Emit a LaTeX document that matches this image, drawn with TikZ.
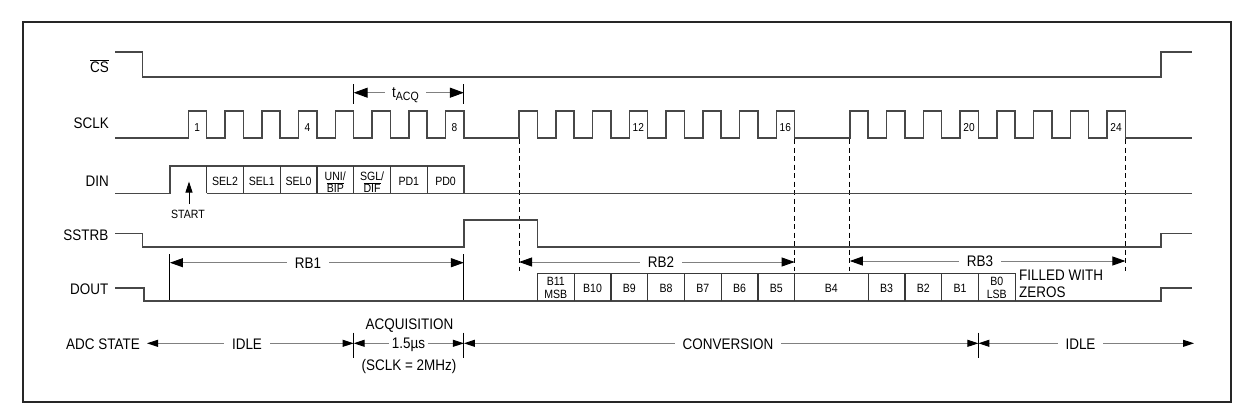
\documentclass[tikz,border=0pt]{standalone}
\usepackage{fontspec}
\setmainfont{Liberation Sans}[FakeStretch=0.88]
\usetikzlibrary{arrows.meta}
\begin{document}
\begin{tikzpicture}[x=1pt,y=-1pt,
  tri/.tip={Triangle[length=11pt,width=7pt,color=black]},
  trb/.tip={Triangle[length=13pt,width=9pt,color=black]},
  tta/.tip={Triangle[length=14pt,width=10pt,color=black]},
  sig/.style={line width=1.6pt,draw=black!72,line join=miter},
  bx/.style={line width=1.2pt,draw=black!78},
  dimline/.style={line width=0.9pt,draw=black!50},
  tick/.style={line width=0.9pt,draw=black},
  dline/.style={line width=1.1pt,draw=black,dash pattern=on 5pt off 3.5pt},
  lbl/.style={font=\fontsize{15.3}{17}\selectfont,inner sep=0pt},
  sml/.style={font=\fontsize{12}{14}\selectfont,inner sep=0pt},
  num/.style={font=\fontsize{11.5}{12}\selectfont,inner sep=0pt},
  gap/.style={fill=white,inner xsep=8pt,inner ysep=1pt}
]
\useasboundingbox (0,0) rectangle (1242,407);
\draw[line width=1.6pt,draw=black!85] (23,21.7) rectangle (1231,401.7);

% signal names
\node[lbl,anchor=base east] (lcs) at (109,72.7) {$\overline{\mbox{CS}}$};
\node[lbl,anchor=base east] (lsclk) at (109,128.3) {SCLK};
\node[lbl,anchor=base east] (ldin) at (109,186.7) {DIN};
\node[lbl,anchor=base east] (lsstrb) at (108.5,240) {SSTRB};
\node[lbl,anchor=base east] (ldout) at (108.5,294) {DOUT};
\node[lbl,anchor=east] (ladc) at (140,344) {ADC STATE};

% CS
\draw[sig] (115,52) -- (142.3,52) -- (142.3,76.7) -- (1161,76.7) -- (1161,52) -- (1192,52);

% SCLK
\draw[sig] (115,137.7) \foreach \k [evaluate=\k as \x using {188.3+(\k-1+(\k>8)+(\k>16))*36.75}] in {1,...,24} { -- (\x,137.7) -- (\x,110.7) -- (\x+18.375,110.7) -- (\x+18.375,137.7) } -- (1192,137.7);
\foreach \k [evaluate=\k as \x using {188.3+(\k-1+(\k>8)+(\k>16))*36.75+9}] in {1,4,8,12,16,20,24}
  \node[num] (n\k) at (\x,127.5) {\k};

% tACQ
\draw[tick] (353.675,84) -- (353.675,104.3);
\draw[tick] (463.925,84) -- (463.925,104.3);
\coordinate (ta1) at (353.675,92.7);
\coordinate (ta2) at (463.925,92.7);
\draw[dimline,tta-tta] (ta1) -- (ta2);
\node[lbl,gap,inner xsep=7pt,anchor=base] (tacq) at (405.5,97) {t\raisebox{-0.4ex}{\fontsize{12}{12}\selectfont ACQ}};

% dashed markers
\foreach \xx/\nm in {519.05/da,794.675/db,849.8/dc,1125.425/dd}
  \draw[dline] (\xx,139) -- (\xx,271);

% DIN
\draw[sig] (115,193.3) -- (169.925,193.3) -- (169.925,166) -- (463.925,166) -- (463.925,193.3);
\draw[sig] (206.675,193.3) -- (1192,193.3);
\foreach \xx in {206.675,243.425,280.175,316.925,353.675,390.425,427.175}
  \draw[bx] (\xx,166) -- (\xx,193.3);
\node[sml] (sel2) at (225.05,181) {SEL2};
\node[sml] (sel1) at (261.8,181) {SEL1};
\node[sml] (sel0) at (298.55,181) {SEL0};
\node[sml,align=center] (unibip) at (335.3,182) {UNI/\\[-1.5pt]$\overline{\mbox{BIP}}$};
\node[sml,align=center] (sgldif) at (372.05,182) {SGL/\\[-1.5pt]$\overline{\mbox{DIF}}$};
\node[sml] (pd1) at (408.8,181) {PD1};
\node[sml] (pd0) at (445.55,181) {PD0};

% START
\coordinate (st0) at (189,204);
\coordinate (st1) at (189,181.5);
\draw[line width=1pt,-{Triangle[length=11pt,width=7pt]}] (st0) -- (st1);
\node[sml] (start) at (188,214) {START};

% SSTRB
\draw[sig] (115,233.3) -- (142.3,233.3) -- (142.3,246.7) -- (463.925,246.7) -- (463.925,220) -- (537.425,220) -- (537.425,246.7) -- (1161,246.7) -- (1161,233.3) -- (1192,233.3);

% RB arrows
\draw[tick] (169.925,254) -- (169.925,300.7);
\draw[tick] (463.925,254) -- (463.925,300.7);
\coordinate (rb1a) at (169.925,262.7);
\coordinate (rb1b) at (463.925,262.7);
\draw[dimline,trb-trb] (rb1a) -- (rb1b);
\node[lbl,gap] (rb1) at (308,263) {RB1};
\coordinate (rb2a) at (519.05,262);
\coordinate (rb2b) at (794.675,262);
\draw[dimline,trb-trb] (rb2a) -- (rb2b);
\node[lbl,gap] (rb2) at (661,262) {RB2};
\coordinate (rb3a) at (849.8,261);
\coordinate (rb3b) at (1125.425,261);
\draw[dimline,trb-trb] (rb3a) -- (rb3b);
\node[lbl,gap] (rb3) at (980,261) {RB3};

% DOUT
\draw[sig] (115,287.7) -- (144,287.7) -- (144,300.7) -- (1161,300.7) -- (1161,287.7) -- (1192,287.7);
\draw[bx] (537.425,273.3) -- (1015.175,273.3);
\foreach \xx in {537.425,574.175,610.925,647.675,684.425,721.175,757.925,794.675,868.175,904.925,941.675,978.425,1015.175}
  \draw[bx] (\xx,273.3) -- (\xx,300.7);
\node[sml,align=center] (b11) at (555.8,288) {B11\\[-1.5pt]MSB};
\node[sml] (b10) at (592.55,288.5) {B10};
\node[sml] (b9) at (629.3,288.5) {B9};
\node[sml] (b8) at (666.05,288.5) {B8};
\node[sml] (b7) at (702.8,288.5) {B7};
\node[sml] (b6) at (739.55,288.5) {B6};
\node[sml] (b5) at (776.3,288.5) {B5};
\node[sml] (b4) at (831.4,288.5) {B4};
\node[sml] (b3) at (886.55,288.5) {B3};
\node[sml] (b2) at (923.3,288.5) {B2};
\node[sml] (b1) at (960.05,288.5) {B1};
\node[sml,align=center] (b0) at (996.8,288) {B0\\[-1.5pt]LSB};
\node[lbl,align=left,anchor=west,font=\fontsize{15.3}{16.5}\selectfont] (zeros) at (1019,284) {FILLED WITH\\ZEROS};

% ADC state
\foreach \xx in {353.675,463.925,978.425}
  \draw[tick] (\xx,332.7) -- (\xx,358.3);
\coordinate (s0) at (147,343.3);
\coordinate (s1) at (353.675,343.3);
\coordinate (s2) at (463.925,343.3);
\coordinate (s3) at (978.425,343.3);
\coordinate (s4) at (1194,343.3);
\draw[dimline,tri-tri] (s0) -- (s1);
\draw[dimline,tri-tri] (s1) -- (s2);
\draw[dimline,tri-tri] (s2) -- (s3);
\draw[dimline,tri-tri] (s3) -- (s4);
\node[lbl,gap] (idle1) at (247,344) {IDLE};
\node[lbl,fill=white,inner xsep=3pt,inner ysep=1pt] (t15) at (408.5,345) {1.5µs};
\node[lbl] (acq) at (409.5,326) {ACQUISITION};
\node[lbl] (sclk2) at (409,366.7) {(SCLK = 2MHz)};
\node[lbl,gap] (conv) at (728,344) {CONVERSION};
\node[lbl,gap] (idle2) at (1080.5,344) {IDLE};
\end{tikzpicture}
\end{document}
